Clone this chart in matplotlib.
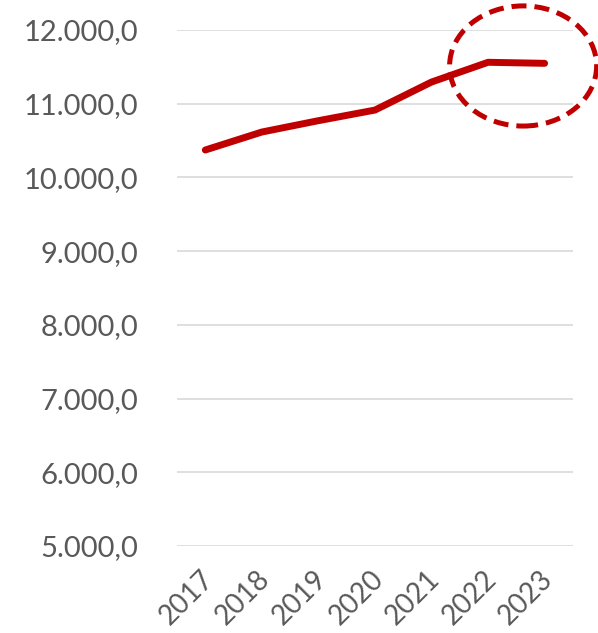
import matplotlib
matplotlib.use("Agg")
import matplotlib.pyplot as plt
import matplotlib.transforms as mtransforms
from matplotlib.patches import Ellipse
from matplotlib.ticker import FuncFormatter

years = ["2017", "2018", "2019", "2020", "2021", "2022", "2023"]
values = [10372, 10616, 10770, 10914, 11294, 11562, 11548]
y_ticks = [5000, 6000, 7000, 8000, 9000, 10000, 11000, 12000]

plt.rcParams["font.family"] = ["Lato", "DejaVu Sans"]

fig = plt.figure(figsize=(5.98, 6.33), dpi=100)
ax = fig.add_axes([0.296, 0.1374, 0.662, 0.8152])

x = list(range(len(years)))
ax.plot(x, values, color="#C00000", linewidth=5.0, solid_capstyle="round",
        solid_joinstyle="round", zorder=3)

ax.set_xlim(-0.5, len(years) - 0.5)
ax.set_ylim(5000, 12000)
ax.set_yticks(y_ticks)
ax.yaxis.set_major_formatter(
    FuncFormatter(lambda v, p: f"{v:,.1f}".replace(",", "X").replace(".", ",").replace("X", ".")))
ax.set_xticks(x)
ax.set_xticklabels(years, rotation=45, ha="right", va="top", rotation_mode="anchor")

ax.grid(axis="y", color="#D9D9D9", linewidth=1.2)
ax.set_axisbelow(True)
for s in ax.spines.values():
    s.set_visible(False)
ax.tick_params(axis="y", length=0, labelsize=21, colors="#595959", pad=28)
ax.tick_params(axis="x", length=0, labelsize=20, colors="#595959", pad=14)

# nudge the rotated year labels slightly left
shift = mtransforms.ScaledTranslation(-0.05, 0, fig.dpi_scale_trans)
for lbl in ax.get_xticklabels():
    lbl.set_transform(lbl.get_transform() + shift)

# highlight the last two years
ell = Ellipse((5.62, 11512), width=2.6, height=1630, fill=False,
              edgecolor="#C00000", linewidth=3.6, linestyle=(0, (3, 1.6)),
              clip_on=False, zorder=4)
ax.add_patch(ell)

fig.savefig("out.png", dpi=100)
